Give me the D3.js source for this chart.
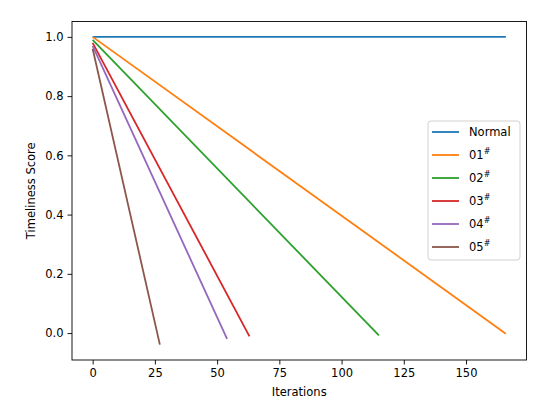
<html>
<head>
<script src="https://d3js.org/d3.v7.min.js"></script>
<style>
  body { margin: 0; background: #fff; font-family: 'DejaVu Sans', sans-serif; }
  .axis text { font-size: 11.5px; fill: #000; font-family: 'DejaVu Sans', sans-serif; }
  .axis path, .axis line { stroke: #000; stroke-width: 0.9px; }
  .line { fill: none; stroke-width: 1.8px; }
</style>
</head>
<body>
<div id="chart"></div>
<script>
// series: name, first and last point (iteration, score)
const names = ['Normal', '01', '02', '03', '04', '05']
const colors = ['#1f77b4', '#ff7f0e', '#2ca02c', '#d62728', '#9467bd', '#8c564b']
const startScore = [1.0, 1.0, 0.99, 0.98, 0.97, 0.96]
const endIter = [166, 166, 115, 63, 54, 27]
const endScore = [1.0, -0.002, -0.008, -0.011, -0.02, -0.039]
const xTicks = [0, 25, 50, 75, 100, 125, 150]
const yTicks = [0.0, 0.2, 0.4, 0.6, 0.8, 1.0]

const W = 550, H = 417
const margin = {top: 21.5, right: 23.5, bottom: 57, left: 72}
const w = W - margin.left - margin.right
const h = H - margin.top - margin.bottom

const svg = d3.select('#chart').append('svg')
  .attr('width', W).attr('height', H)
const g = svg.append('g')
  .attr('transform', `translate(${margin.left},${margin.top})`)

const series = names.map((n, i) => ({
  name: n, color: colors[i],
  pts: [{it: 0, s: startScore[i]}, {it: endIter[i], s: endScore[i]}]
}))

const xMax = d3.max(endIter), yMin = d3.min(endScore), yMax = d3.max(startScore)
const xPad = xMax * 0.05, yPad = (yMax - yMin) * 0.05
const x = d3.scaleLinear().domain([-xPad, xMax + xPad]).range([0, w])
const y = d3.scaleLinear().domain([yMin - yPad, yMax + yPad]).range([h, 0])

const line = d3.line().x(d => x(d.it)).y(d => y(d.s))

g.selectAll('.line').data(series).enter().append('path')
  .attr('class', 'line')
  .style('stroke', d => d.color)
  .attr('d', d => line(d.pts))

// axes
g.append('g').attr('class', 'axis')
  .attr('transform', `translate(0,${h})`)
  .call(d3.axisBottom(x).tickValues(xTicks).tickSize(4.5).tickPadding(4).tickFormat(d3.format('d')))
g.append('g').attr('class', 'axis')
  .call(d3.axisLeft(y).tickValues(yTicks).tickSize(4.5).tickPadding(4).tickFormat(d3.format('.1f')))

// frame
g.append('rect').attr('width', w).attr('height', h)
  .attr('fill', 'none').attr('stroke', '#000').attr('stroke-width', 0.9)
g.selectAll('.axis .domain').remove()

// labels
svg.append('text')
  .attr('x', margin.left + w / 2).attr('y', 396)
  .attr('text-anchor', 'middle').style('font-size', '11.5px')
  .text('Iterations')
svg.append('text')
  .attr('transform', `translate(35,${margin.top + h / 2}) rotate(-90)`)
  .attr('text-anchor', 'middle').style('font-size', '11.5px')
  .text('Timeliness Score')

// legend
const lg = svg.append('g').attr('transform', 'translate(428,121)')
lg.append('rect').attr('width', 92).attr('height', 139).attr('rx', 3)
  .attr('fill', '#fff').attr('fill-opacity', 0.8)
  .attr('stroke', '#ccc').attr('stroke-width', 0.9)
series.forEach((d, i) => {
  const yy = 11 + i * 23
  lg.append('line').attr('x1', 4).attr('x2', 31).attr('y1', yy).attr('y2', yy)
    .attr('stroke', d.color).attr('stroke-width', 1.8)
  const t = lg.append('text').attr('x', 41).attr('y', yy + 4)
    .style('font-size', '11.5px')
  t.append('tspan').text(d.name)
  if (i > 0) t.append('tspan').attr('dy', -5).style('font-size', '8px').text('#')
})
</script>
</body>
</html>
